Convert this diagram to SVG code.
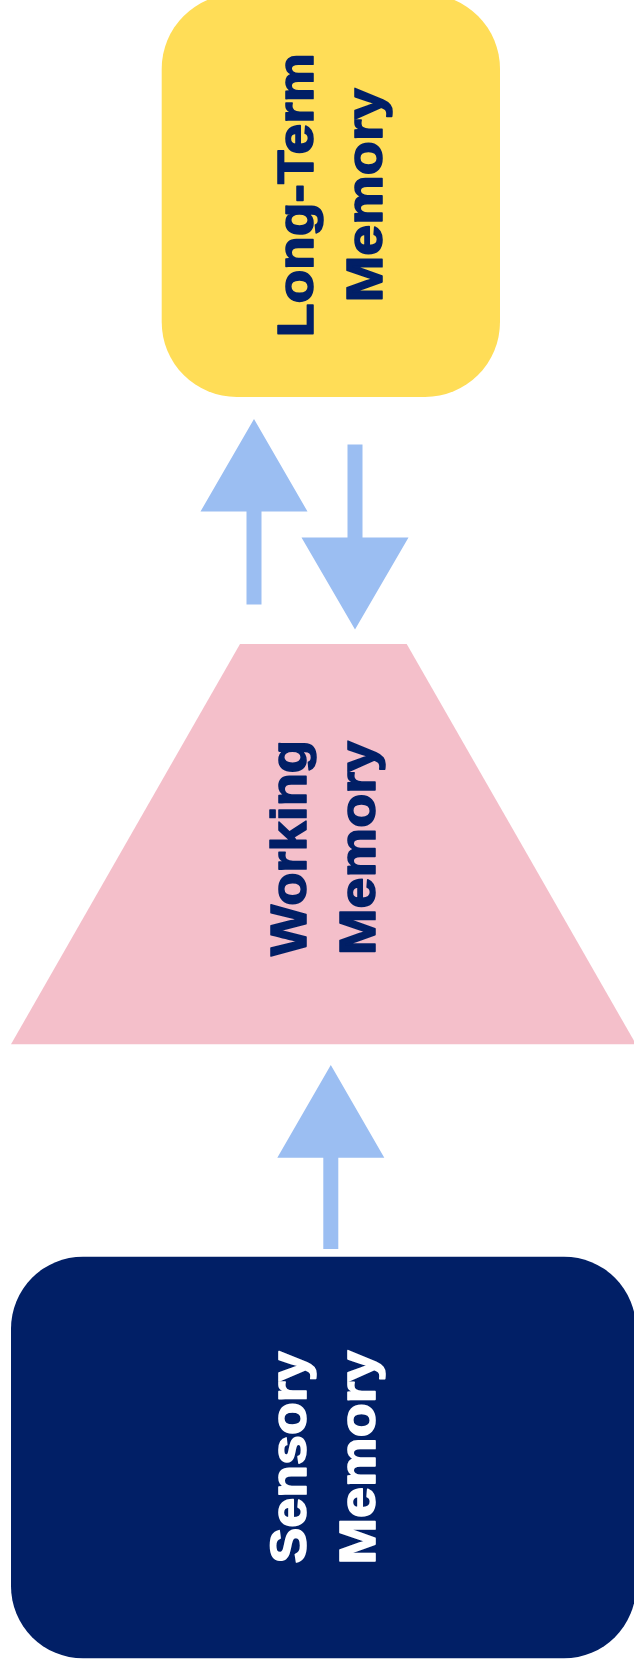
<svg xmlns="http://www.w3.org/2000/svg" width="634" height="1672" viewBox="0 0 634 1672">
  <style>
    .lbl { font-family: "Liberation Sans", Arial, sans-serif; font-weight: bold; font-size: 50px; text-anchor: middle; stroke-width: 1.6; stroke-linejoin: round; }
    .dark { fill: #011f66; stroke: #011f66; }
    .light { fill: #ffffff; stroke: #ffffff; }
    .arrow { fill: #9bbef2; }
  </style>
  <rect width="634" height="1672" fill="#ffffff"/>
  <g id="long-term-memory">
    <rect x="161.7" y="-6" width="338.3" height="403" rx="75" ry="75" fill="#ffdd57"/>
    <g transform="translate(330.8,195.3) rotate(-90)">
      <text class="lbl dark" x="0" y="-18" textLength="284" lengthAdjust="spacingAndGlyphs">Long-Term</text>
      <text class="lbl dark" x="0" y="51" textLength="214" lengthAdjust="spacingAndGlyphs">Memory</text>
    </g>
  </g>
  <g id="working-memory">
    <polygon points="240,644 406.7,644 636,1044.3 11,1044.3" fill="#f4bfca"/>
    <g transform="translate(323.3,848) rotate(-90)">
      <text class="lbl dark" x="0" y="-17.5" textLength="216" lengthAdjust="spacingAndGlyphs">Working</text>
      <text class="lbl dark" x="0" y="51.5" textLength="214" lengthAdjust="spacingAndGlyphs">Memory</text>
    </g>
  </g>
  <g id="sensory-memory">
    <rect x="11" y="1256.7" width="625" height="401.6" rx="72" ry="72" fill="#011f66"/>
    <g transform="translate(323.5,1457.5) rotate(-90)">
      <text class="lbl light" x="0" y="-17.5" textLength="212" lengthAdjust="spacingAndGlyphs">Sensory</text>
      <text class="lbl light" x="0" y="51.5" textLength="214" lengthAdjust="spacingAndGlyphs">Memory</text>
    </g>
  </g>
  <g id="connectors">
    <polygon class="arrow" points="254,419 307.5,511.5 261.5,511.5 261.5,604.5 246.5,604.5 246.5,511.5 200.5,511.5"/>
    <polygon class="arrow" points="347.5,444.5 362.5,444.5 362.5,537.5 408.5,537.5 355,629.5 301.5,537.5 347.5,537.5"/>
    <polygon class="arrow" points="330.8,1065 384.3,1157.7 338.3,1157.7 338.3,1249 323.3,1249 323.3,1157.7 277.3,1157.7"/>
  </g>
</svg>
